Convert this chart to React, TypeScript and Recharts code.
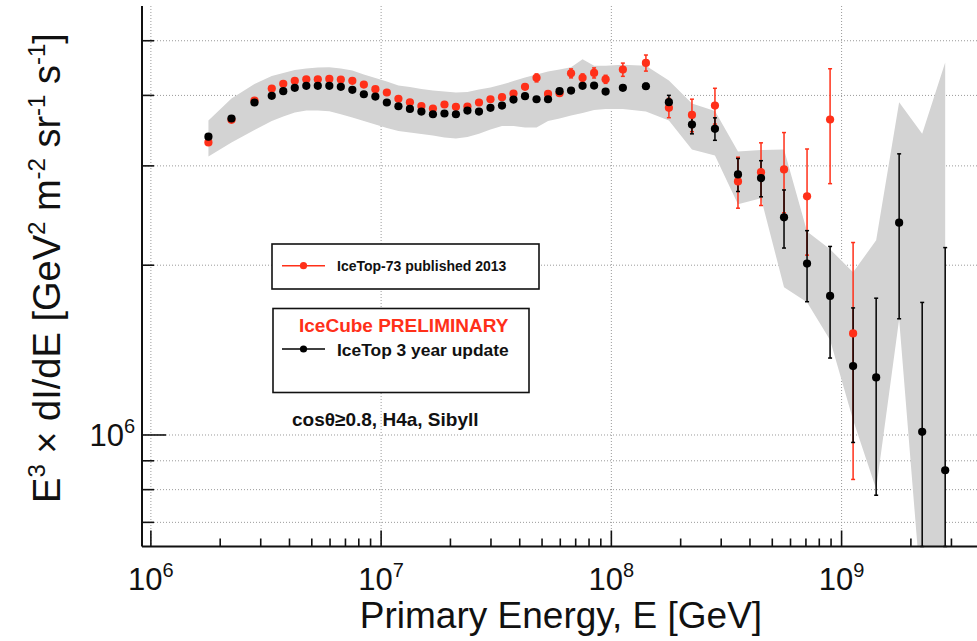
import React from 'react';
import { ComposedChart, Line, Area, XAxis, YAxis, CartesianGrid, ErrorBar } from 'recharts';

// Primary energy bin centres [GeV]
const energy = [
  1.778e6, 2.239e6, 2.818e6, 3.35e6, 3.758e6, 4.217e6, 4.732e6, 5.309e6, 5.957e6, 6.683e6,
  7.499e6, 8.414e6, 9.441e6, 1.059e7, 1.189e7, 1.334e7, 1.496e7, 1.679e7, 1.884e7, 2.113e7,
  2.371e7, 2.661e7, 2.985e7, 3.35e7, 3.758e7, 4.217e7, 4.732e7, 5.309e7, 5.957e7, 6.683e7,
  7.499e7, 8.414e7, 9.441e7, 1.122e8, 1.413e8, 1.778e8, 2.239e8, 2.818e8, 3.548e8, 4.467e8,
  5.623e8, 7.079e8, 8.913e8, 1.122e9, 1.413e9, 1.778e9, 2.239e9, 2.818e9,
];

// IceTop 3 year update (units of 1e6 GeV^2 m^-2 sr^-1 s^-1)
const update3yr = [
  3.38, 3.64, 3.886, 3.993, 4.069, 4.125, 4.159, 4.159, 4.159, 4.142,
  4.092, 4.019, 3.981, 3.886, 3.827, 3.786, 3.745, 3.704, 3.715, 3.704,
  3.76, 3.745, 3.802, 3.838, 3.933, 3.987, 3.938, 3.938, 4.069, 4.08,
  4.159, 4.164, 4.063, 4.125, 4.152, 3.891, 3.551, 3.49, 2.897, 2.854,
  2.432, 2.013, 1.764, 1.325, 1.265, 2.379, 1.013, 0.866,
];
const update3yrErr = [
  0.015, 0.015, 0.015, 0.015, 0.015, 0.015, 0.015, 0.015, 0.015, 0.015,
  0.015, 0.015, 0.015, 0.015, 0.015, 0.015, 0.015, 0.015, 0.015, 0.015,
  0.015, 0.015, 0.015, 0.015, 0.015, 0.015, 0.02, 0.02, 0.02, 0.02,
  0.02, 0.02, 0.025, 0.034, 0.05, 0.11, 0.132, 0.16, 0.195, 0.21,
  0.287, 0.29, 0.395, 0.355, 0.483, 0.772, 0.705, 1.283,
];

// IceTop-73 published 2013
const published2013 = [
  3.301, 3.621, 3.917, 4.113, 4.193, 4.245, 4.272, 4.272, 4.279, 4.267,
  4.245, 4.181, 4.103, 4.048, 3.944, 3.889, 3.831, 3.792, 3.854, 3.818,
  3.823, 3.886, 3.938, 3.971, 4.031, 4.142, 4.297, 4.025, 4.035, 4.377,
  4.297, 4.385, 4.272, 4.444, 4.567, 3.802, 3.694, 3.838, 2.816, 2.924,
  2.957, 2.649, 3.625, 1.514,
];
const published2013Err = [
  0.02, 0.02, 0.02, 0.02, 0.02, 0.02, 0.02, 0.02, 0.02, 0.02,
  0.02, 0.02, 0.02, 0.02, 0.02, 0.02, 0.02, 0.02, 0.02, 0.02,
  0.02, 0.02, 0.03, 0.03, 0.03, 0.04, 0.07, 0.03, 0.03, 0.08,
  0.07, 0.09, 0.07, 0.12, 0.15, 0.15, 0.245, 0.28, 0.292, 0.372,
  0.48, 0.565, 0.835, 0.68,
];

// Systematic uncertainty band of the update
const bandHigh = [
  3.61, 3.95, 4.192, 4.329, 4.382, 4.436, 4.463, 4.481, 4.485, 4.466,
  4.426, 4.357, 4.293, 4.232, 4.164, 4.138, 4.105, 4.08, 4.063, 4.047,
  4.055, 4.097, 4.13, 4.181, 4.241, 4.302, 4.355, 4.409, 4.444, 4.489,
  4.638, 4.517, 4.517, 4.535, 4.517, 4.25, 3.869, 3.752, 3.181, 3.2,
  3.207, 2.296, 2.134, 1.943, 2.214, 3.891, 3.42, 4.577,
];
const bandLow = [
  3.118, 3.301, 3.474, 3.603, 3.67, 3.73, 3.76, 3.76, 3.75, 3.704,
  3.654, 3.603, 3.551, 3.501, 3.459, 3.438, 3.417, 3.396, 3.369, 3.355,
  3.376, 3.42, 3.479, 3.529, 3.529, 3.508, 3.508, 3.603, 3.64, 3.684,
  3.722, 3.768, 3.786, 3.786, 3.745, 3.61, 3.207, 3.13, 2.564, 2.628,
  1.828, 1.72, 1.473, 1.063, 0.802, 1.604, 0.5, 0.5,
];

const xTicks = [
  1e6, 2e6, 3e6, 4e6, 5e6, 6e6, 7e6, 8e6, 9e6,
  1e7, 2e7, 3e7, 4e7, 5e7, 6e7, 7e7, 8e7, 9e7,
  1e8, 2e8, 3e8, 4e8, 5e8, 6e8, 7e8, 8e8, 9e8,
  1e9, 2e9, 3e9,
];
const yTicks = [7e5, 8e5, 9e5, 1e6, 2e6, 3e6, 4e6, 5e6];
const xGrid = [1e6, 1e7, 1e8, 1e9];

const X_DOMAIN: [number, number] = [9.15e5, 3.952e9];
const Y_DOMAIN: [number, number] = [6.343e5, 5.762e6];

const UNIT = 1e6;
const RED = '#ff3019';
const BLACK = '#000000';
const FONT = '"Liberation Sans", Arial, Helvetica, sans-serif';

// lower error never reaches below the frame (log axis cannot show <= 0)
const lowerErr = (v: number, e: number) => Math.min(e * UNIT, v * UNIT - Y_DOMAIN[0]);

const rows = energy.map((E, i) => {
  const b = update3yr[i];
  const be = update3yrErr[i];
  const hasRed = i < published2013.length;
  return {
    E,
    band: [bandLow[i] * UNIT, bandHigh[i] * UNIT],
    black: b * UNIT,
    blackErr: [lowerErr(b, be), be * UNIT],
    red: hasRed ? published2013[i] * UNIT : undefined,
    redErr: hasRed
      ? [lowerErr(published2013[i], published2013Err[i]), published2013Err[i] * UNIT]
      : undefined,
  };
});

const isMajor = (v: number) => Math.abs(Math.log10(v) - Math.round(Math.log10(v))) < 1e-9;
const expOf = (v: number) => Math.round(Math.log10(v));

const BottomTick = (props: any) => {
  const { x, y, payload } = props;
  const v = payload.value;
  const major = isMajor(v);
  return (
    <g>
      <line x1={x} x2={x} y1={y} y2={y - (major ? 16 : 8)} stroke="#111" strokeWidth={1.6} />
      {major && (
        <text x={x} y={y + 43} textAnchor="middle" fontFamily={FONT} fontSize={31} fill="#111">
          10<tspan dy={-13} fontSize={20}>{expOf(v)}</tspan>
        </text>
      )}
    </g>
  );
};

const TopTick = (props: any) => {
  const { x, y, payload } = props;
  const major = isMajor(payload.value);
  return <line x1={x} x2={x} y1={y} y2={y + (major ? 16 : 8)} stroke="#111" strokeWidth={1.6} />;
};

const LeftTick = (props: any) => {
  const { x, y, payload } = props;
  const v = payload.value;
  const major = isMajor(v);
  return (
    <g>
      <line x1={x} x2={x + (major ? 24 : 12)} y1={y} y2={y} stroke="#111" strokeWidth={1.6} />
      {major && (
        <text x={x - 7} y={y + 11} textAnchor="end" fontFamily={FONT} fontSize={31} fill="#111">
          10<tspan dy={-13} fontSize={20}>{expOf(v)}</tspan>
        </text>
      )}
    </g>
  );
};

const RightTick = (props: any) => {
  const { x, y, payload } = props;
  const major = isMajor(payload.value);
  return <line x1={x} x2={x - (major ? 22 : 11)} y1={y} y2={y} stroke="#111" strokeWidth={1.6} />;
};

const Overlay = () => (
  <svg
    width={977}
    height={641}
    style={{ position: 'absolute', left: 0, top: 0, pointerEvents: 'none' }}
  >
    {/* legend box 1 */}
    <rect x={272} y={244} width={267} height={45} fill="#fff" stroke="#111" strokeWidth={1.6} />
    <line x1={282} x2={325} y1={265.7} y2={265.7} stroke={RED} strokeWidth={1.6} />
    <circle cx={303.5} cy={265.7} r={3.6} fill={RED} />
    <text x={337} y={271} fontFamily={FONT} fontWeight="bold" fontSize={14} fill="#111">
      IceTop-73 published 2013
    </text>
    {/* legend box 2 */}
    <rect x={273} y={308.5} width={256} height={84} fill="#fff" stroke="#111" strokeWidth={1.6} />
    <text x={299} y={331.5} fontFamily={FONT} fontWeight="bold" fontSize={19} fill={RED}>
      IceCube PRELIMINARY
    </text>
    <line x1={282} x2={325} y1={349} y2={349} stroke={BLACK} strokeWidth={1.6} />
    <circle cx={303.5} cy={349} r={3.6} fill={BLACK} />
    <text x={337} y={355.5} fontFamily={FONT} fontWeight="bold" fontSize={17.4} fill="#111">
      IceTop 3 year update
    </text>
    <text x={292} y={426} fontFamily={FONT} fontWeight="bold" fontSize={19} fill="#111">
      cosθ≥0.8, H4a, Sibyll
    </text>
    {/* axis titles */}
    <text x={561} y={628} textAnchor="middle" fontFamily={FONT} fontSize={37} fill="#111">
      Primary Energy, E [GeV]
    </text>
    <text
      transform="translate(60 268) rotate(-90)"
      x={0}
      y={0}
      textAnchor="middle"
      fontFamily={FONT}
      fontSize={38}
      fill="#111"
    >
      E<tspan dy={-15} fontSize={24}>3</tspan>
      <tspan dy={15}> × dI/dE [GeV</tspan>
      <tspan dy={-15} fontSize={24}>2</tspan>
      <tspan dy={15}> m</tspan>
      <tspan dy={-15} fontSize={24}>-2</tspan>
      <tspan dy={15}> sr</tspan>
      <tspan dy={-15} fontSize={24}>-1</tspan>
      <tspan dy={15}> s</tspan>
      <tspan dy={-15} fontSize={24}>-1</tspan>
      <tspan dy={15}>]</tspan>
    </text>
  </svg>
);

export default function App() {
  return (
    <div
      style={{
        position: 'absolute',
        left: 0,
        top: 0,
        width: 977,
        height: 641,
        overflow: 'hidden',
        background: '#fff',
      }}
    >
      <ComposedChart
        width={981}
        height={641}
        data={rows}
        margin={{ top: 6, right: 2, bottom: 34.5, left: 82 }}
      >
        <CartesianGrid
          stroke="#9a9a9a"
          strokeDasharray="1 2"
          strokeWidth={1}
          verticalValues={xGrid}
          horizontalValues={yTicks}
        />
        <XAxis
          dataKey="E"
          type="number"
          scale="log"
          domain={X_DOMAIN}
          allowDataOverflow
          ticks={xTicks}
          interval={0}
          height={60}
          tickSize={0}
          tickMargin={0}
          tickLine={false}
          axisLine={{ stroke: '#111', strokeWidth: 2 }}
          tick={BottomTick}
        />
        <XAxis
          xAxisId="top"
          orientation="top"
          dataKey="E"
          type="number"
          scale="log"
          domain={X_DOMAIN}
          allowDataOverflow
          ticks={xTicks}
          interval={0}
          height={0}
          tickSize={0}
          tickMargin={0}
          tickLine={false}
          axisLine={{ stroke: '#111', strokeWidth: 2 }}
          tick={TopTick}
        />
        <YAxis
          type="number"
          scale="log"
          domain={Y_DOMAIN}
          allowDataOverflow
          ticks={yTicks}
          interval={0}
          width={60}
          tickSize={0}
          tickMargin={0}
          tickLine={false}
          axisLine={{ stroke: '#111', strokeWidth: 2 }}
          tick={LeftTick}
        />
        <YAxis
          yAxisId="right"
          orientation="right"
          type="number"
          scale="log"
          domain={Y_DOMAIN}
          allowDataOverflow
          ticks={yTicks}
          interval={0}
          width={0}
          tickSize={0}
          tickMargin={0}
          tickLine={false}
          axisLine={{ stroke: '#111', strokeWidth: 2 }}
          tick={RightTick}
        />
        <Area
          dataKey="band"
          type="linear"
          fill="#d3d3d3"
          fillOpacity={1}
          stroke="none"
          activeDot={false}
          isAnimationActive={false}
        />
        <Line
          dataKey="red"
          stroke="none"
          dot={{ r: 4.1, fill: RED, stroke: 'none' }}
          activeDot={false}
          isAnimationActive={false}
        >
          <ErrorBar dataKey="redErr" direction="y" width={2} stroke={RED} strokeWidth={1.5} />
        </Line>
        <Line
          dataKey="black"
          stroke="none"
          dot={{ r: 4.1, fill: BLACK, stroke: 'none' }}
          activeDot={false}
          isAnimationActive={false}
        >
          <ErrorBar dataKey="blackErr" direction="y" width={2} stroke={BLACK} strokeWidth={1.5} />
        </Line>
      </ComposedChart>
      <Overlay />
    </div>
  );
}
